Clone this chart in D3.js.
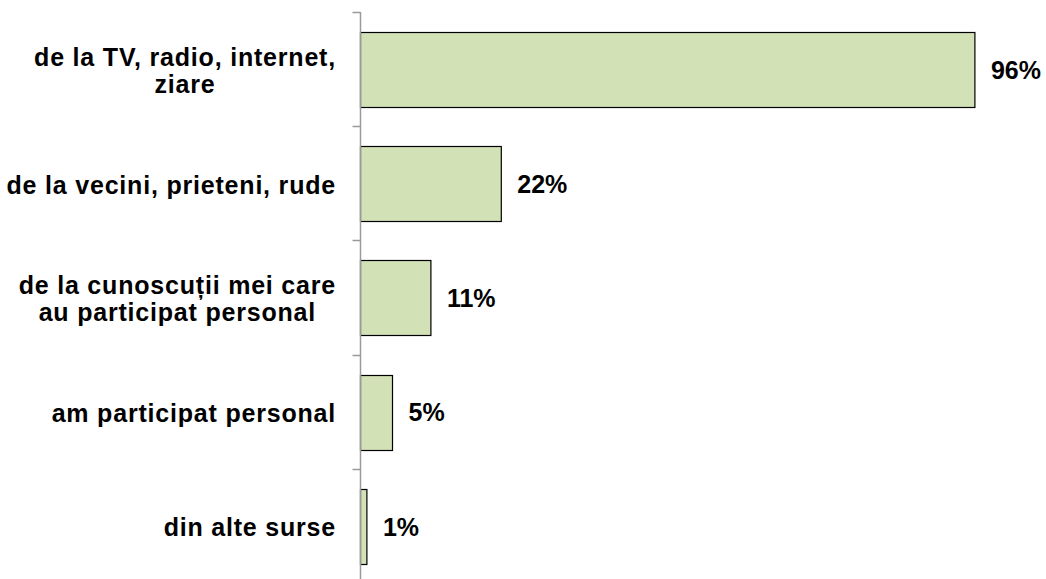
<!DOCTYPE html>
<html><head><meta charset="utf-8">
<script src="https://cdnjs.cloudflare.com/ajax/libs/d3/7.8.5/d3.min.js"></script>
<style>body{margin:0;background:#fff}</style>
</head><body>
<svg id="c" width="1046" height="579"></svg>
<script>
const categories = [
  ["de la TV, radio, internet,", "ziare"],
  ["de la vecini, prieteni, rude"],
  ["de la cunoscuții mei care", "au participat personal"],
  ["am participat personal"],
  ["din alte surse"]
];
const values = [96, 22, 11, 5, 1];
const valueLabels = ["96%", "22%", "11%", "5%", "1%"];

const svg = d3.select("#c");
const axisX = 360.5;
const font = "Liberation Sans, Arial, sans-serif";
const fs = 25;

const y = d3.scaleBand().domain(d3.range(values.length)).range([12, 583]);
const x = d3.scaleLinear().domain([0, 100]).range([axisX, axisX + 640]);
const barPad = 20, barH = 75;

// bars
svg.selectAll("rect.bar").data(values).enter().append("rect")
  .attr("x", axisX)
  .attr("y", (d, i) => Math.round(y(i) + barPad) + 0.5)
  .attr("width", d => x(d) - axisX)
  .attr("height", barH)
  .attr("fill", "#d3e1b6")
  .attr("stroke", "#000")
  .attr("stroke-width", 1.2);

// axis
const g = svg.append("g");
g.append("line").attr("x1", axisX).attr("x2", axisX).attr("y1", 12).attr("y2", 579)
  .attr("stroke", "#9a9a9a").attr("stroke-width", 1.5);
const ticks = d3.range(values.length).map(i => y(i));
g.selectAll("line.tick").data(ticks).enter().append("line")
  .attr("x1", axisX - 8).attr("x2", axisX)
  .attr("y1", d => Math.round(d) + 0.5).attr("y2", d => Math.round(d) + 0.5)
  .attr("stroke", "#9a9a9a").attr("stroke-width", 1.5);

// category labels
const lh = 27;
categories.forEach((lines, i) => {
  const cy = y(i) + y.bandwidth() / 2 + 1.5;
  const t = svg.append("text")
    .attr("font-family", font).attr("font-size", fs).attr("font-weight", "bold")
    .attr("letter-spacing", "0.8px")
    .attr("fill", "#000").attr("text-anchor", "middle");
  const spans = lines.map((l, k) => t.append("tspan").text(l)
    .attr("y", cy + (k - (lines.length - 1) / 2) * lh).attr("dy", "0.35em"));
  const maxW = d3.max(spans.map(s => s.node().getComputedTextLength()));
  spans.forEach(s => s.attr("x", 336 - maxW / 2));
});

// value labels
svg.selectAll("text.val").data(values).enter().append("text")
  .attr("x", d => x(d) + 16)
  .attr("y", (d, i) => y(i) + y.bandwidth() / 2 + 1)
  .attr("dy", "0.35em")
  .attr("font-family", font).attr("font-size", fs).attr("font-weight", "bold")
  .text((d, i) => valueLabels[i]);
</script>
</body></html>
